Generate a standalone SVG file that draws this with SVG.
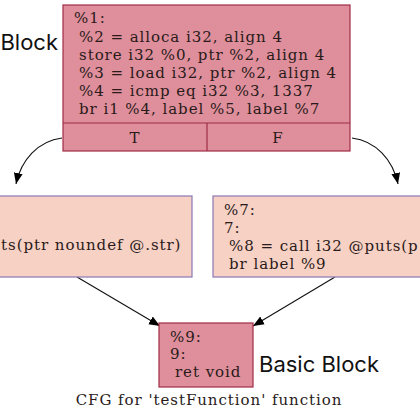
<svg xmlns="http://www.w3.org/2000/svg" width="420" height="420" viewBox="0 0 420 420">
<defs>
<marker id="ah" viewBox="0 0 10 10" refX="10" refY="5" markerWidth="11" markerHeight="11" markerUnits="userSpaceOnUse" orient="auto">
<path d="M0,1 L10,5 L0,9 Z" fill="#000"/>
</marker>
<style>
.hot{fill:#de8f9b;stroke:#a02c46;stroke-width:1.2}
.warm{fill:#f7d1c4;stroke:#8a78b4;stroke-width:1.2}
.t{font-family:"DejaVu Serif",serif;font-size:15px;letter-spacing:0.95px;fill:#2a1a1a}
.lbl{font-family:Inter,"Open Sans",sans-serif;font-size:22px;fill:#111}
.e{fill:none;stroke:#111;stroke-width:1.1}
</style>
</defs>
<rect width="420" height="420" fill="#fff"/>
<g id="edges">
<path class="e" d="M62,138 C38,141 21,160 16,184" marker-end="url(#ah)"/>
<path class="e" d="M352,138 C376,141 393,160 398,184" marker-end="url(#ah)"/>
<path class="e" d="M77,277 L160,326" marker-end="url(#ah)"/>
<path class="e" d="M335,277 L253,326" marker-end="url(#ah)"/>
</g>
<g id="node1">
<rect class="hot" x="63" y="5" width="287" height="146"/>
<line class="hot" x1="63" y1="123" x2="350" y2="123"/>
<line class="hot" x1="207" y1="123" x2="207" y2="151"/>
<text class="t" x="74" y="23">%1:</text>
<text class="t" x="79" y="42">%2 = alloca i32, align 4</text>
<text class="t" x="79" y="60">store i32 %0, ptr %2, align 4</text>
<text class="t" x="79" y="78">%3 = load i32, ptr %2, align 4</text>
<text class="t" x="79" y="96">%4 = icmp eq i32 %3, 1337</text>
<text class="t" x="79" y="114">br i1 %4, label %5, label %7</text>
<text class="t" x="135" y="143" text-anchor="middle">T</text>
<text class="t" x="278" y="143" text-anchor="middle">F</text>
</g>
<g id="node5">
<rect class="warm" x="-10" y="196" width="202" height="81"/>
<text class="t" x="1" y="250">ts(ptr noundef @.str)</text>
</g>
<g id="node7">
<rect class="warm" x="213" y="196" width="220" height="81"/>
<text class="t" x="224" y="215">%7:</text>
<text class="t" x="224" y="233">7:</text>
<text class="t" x="229" y="251">%8 = call i32 @puts(p</text>
<text class="t" x="229" y="269">br label %9</text>
</g>
<g id="node9">
<rect class="hot" x="159" y="323" width="94" height="64"/>
<text class="t" x="170" y="342">%9:</text>
<text class="t" x="170" y="359">9:</text>
<text class="t" x="175" y="377">ret void</text>
</g>
<text class="lbl" x="58" y="50" text-anchor="end">Block</text>
<text class="lbl" x="259" y="372">Basic Block</text>
<text class="t" x="209" y="405" text-anchor="middle">CFG for 'testFunction' function</text>
</svg>
